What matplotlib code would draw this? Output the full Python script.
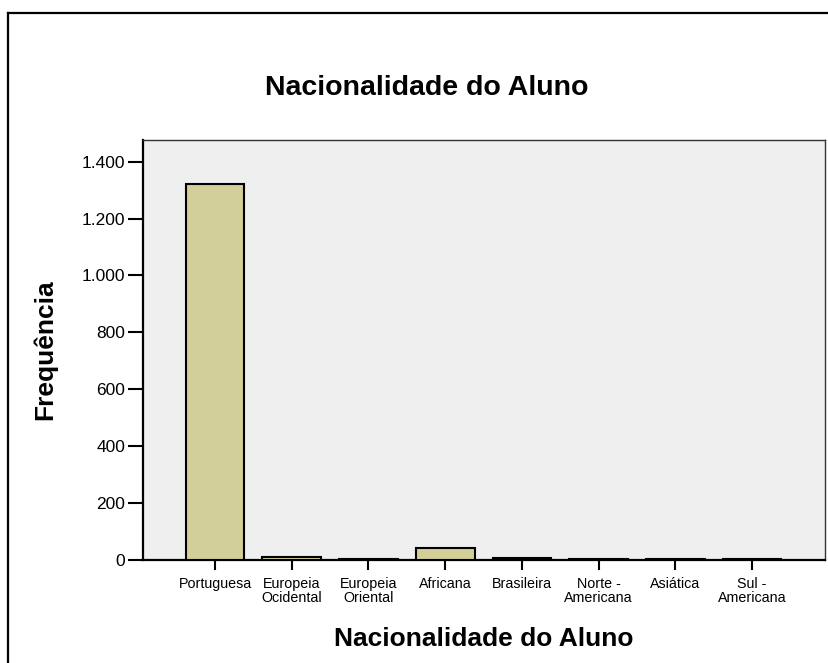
#!/usr/bin/env python3
"""Frequência por nacionalidade do aluno (gráfico de barras estilo SPSS)."""
import matplotlib
matplotlib.use("Agg")
import matplotlib.pyplot as plt
from matplotlib.lines import Line2D
from matplotlib.ticker import FuncFormatter

plt.rcParams["font.family"] = ["Liberation Sans", "DejaVu Sans"]

categorias = ["Portuguesa", "Europeia\nOcidental", "Europeia\nOriental", "Africana",
              "Brasileira", "Norte -\nAmericana", "Asiática", "Sul -\nAmericana"]
frequencias = [1322, 12, 5, 43, 6, 3, 3, 2]
y_ticks = [0, 200, 400, 600, 800, 1000, 1200, 1400]

W, H = 829, 663
fig = plt.figure(figsize=(W / 100, H / 100), dpi=100)
ax = fig.add_axes([142.7 / W, 1 - 560 / H, (825 - 142.7) / W, (560 - 140) / H])
ax.set_facecolor("#efefef")

x = list(range(len(categorias)))
ax.bar(x, frequencias, width=0.765, color="#d3cf98", edgecolor="black", linewidth=1.5, zorder=3)

ax.set_xlim(-0.943, 7.95)
ax.set_ylim(0, 1476)
ax.set_xticks(x)
ax.set_xticklabels(categorias, fontsize=10.3, linespacing=1.05)
ax.set_yticks(y_ticks)
ax.yaxis.set_major_formatter(FuncFormatter(lambda v, p: f"{v:,.0f}".replace(",", ".")))
ax.tick_params(axis="y", length=11, width=1.5, labelsize=12.5, pad=1.5)
ax.tick_params(axis="x", length=7.2, width=1.5, pad=5)

for s in ("left", "bottom"):
    ax.spines[s].set_linewidth(1.6)
for s in ("top", "right"):
    ax.spines[s].set_linewidth(1.0)
    ax.spines[s].set_color("#333333")

ax.set_ylabel("Frequência", fontsize=19, fontweight="bold")
ax.yaxis.label.set_va("center")
ax.yaxis.set_label_coords(-(142.7 - 45.5) / (825 - 142.7), 0.5)
ax.set_xlabel("Nacionalidade do Aluno", fontsize=19, fontweight="bold")
ax.xaxis.label.set_va("center")
ax.xaxis.set_label_coords(0.5, -(639 - 560) / (560 - 140))

fig.text(427 / W, 1 - 95 / H, "Nacionalidade do Aluno", fontsize=20.5,
         fontweight="bold", ha="center", va="baseline")

# moldura exterior (só topo e esquerda ficam visíveis)
fig.add_artist(Line2D([8.5 / W, 1.0], [1 - 13 / H, 1 - 13 / H], color="black", linewidth=1.6))
fig.add_artist(Line2D([8.5 / W, 8.5 / W], [0.0, 1 - 13 / H], color="black", linewidth=1.6))

fig.savefig("out.png", dpi=100)
